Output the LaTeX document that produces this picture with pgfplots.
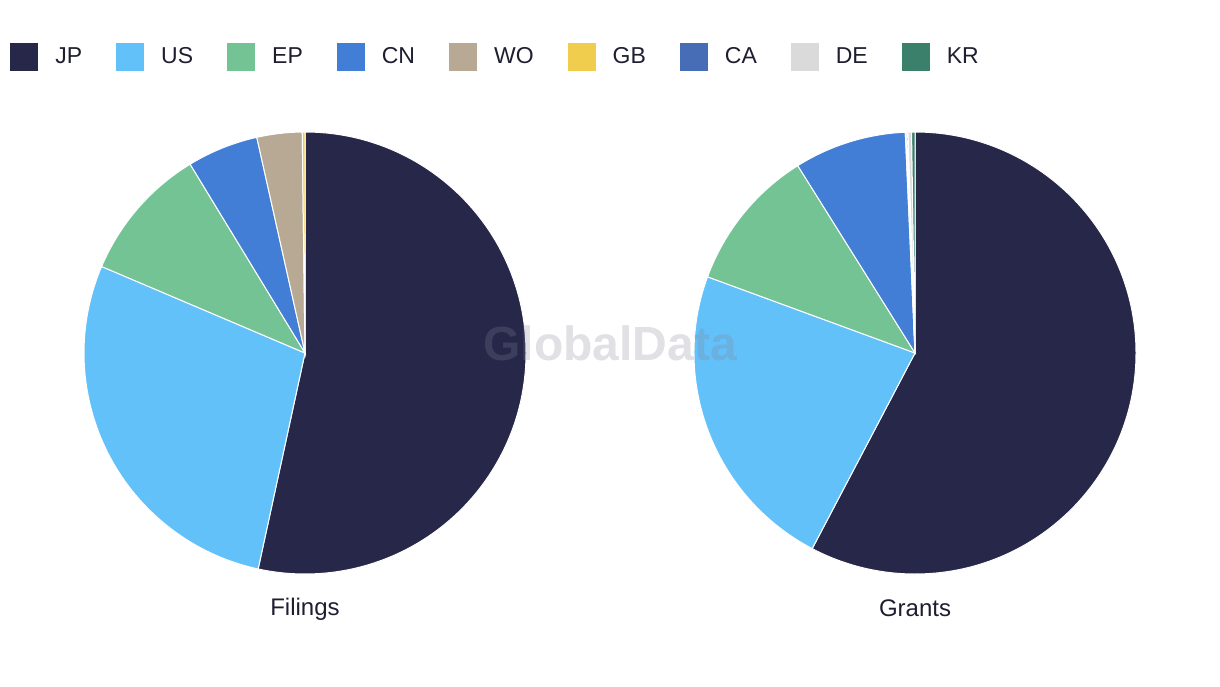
\documentclass[border=0pt]{standalone}
\usepackage{pgfplots}
\pgfplotsset{compat=1.18}
\usepackage{pgfplotstable}
\usepackage{fontspec}
\setmainfont{Liberation Sans}

\definecolor{cJP}{RGB}{38,39,73}
\definecolor{cUS}{RGB}{98,193,249}
\definecolor{cEP}{RGB}{116,195,148}
\definecolor{cCN}{RGB}{66,126,214}
\definecolor{cWO}{RGB}{183,169,147}
\definecolor{cGB}{RGB}{240,205,77}
\definecolor{cCA}{RGB}{70,109,181}
\definecolor{cDE}{RGB}{218,218,218}
\definecolor{cKR}{RGB}{58,128,106}
\definecolor{txt}{RGB}{30,30,48}
\definecolor{wm}{RGB}{130,130,150}

\pgfplotstableread{
code filings grants
JP 53.4 57.7
US 28.0 22.9
EP 9.9 10.5
CN 5.2 8.2
WO 3.3 0.1
GB 0.2 0.0
CA 0.0 0.1
DE 0.0 0.25
KR 0.0 0.25
}\sharetable

\def\R{110.5pt}
\newcommand\drawpie[3]{%
  \gdef\cum{0}%
  \pgfplotstablegetrowsof{\sharetable}\let\nrows\pgfplotsretval
  \pgfmathtruncatemacro\lastrow{\nrows-1}%
  \foreach \i in {0,...,\lastrow}{%
    \pgfplotstablegetelem{\i}{code}\of\sharetable \let\code\pgfplotsretval
    \pgfplotstablegetelem{\i}{#3}\of\sharetable \let\val\pgfplotsretval
    \pgfmathsetmacro\sa{90-3.6*\cum}%
    \pgfmathsetmacro\ea{90-3.6*(\cum+\val)}%
    \pgfmathsetmacro\newcum{\cum+\val}%
    \xdef\cum{\newcum}%
    \ifdim\val pt>0pt
      \fill[c\code, draw=white, line width=0.5pt] (axis cs:#1,#2) -- ++(\sa:\R) arc[start angle=\sa, end angle=\ea, radius=\R] -- cycle;
    \fi
  }%
}

\begin{document}
\begin{tikzpicture}
\begin{axis}[
  width=610pt, height=343pt, scale only axis,
  xmin=0, xmax=1220, ymin=0, ymax=686,
  hide axis, clip=false,
  legend columns=9,
  legend image code/.code={\fill[#1, draw=none] (0pt,-7pt) rectangle (14pt,7pt);},
  legend style={draw=none, fill=none, at={(axis cs:10,629)}, anchor=west,
    inner sep=0pt, text=txt,
    font=\fontsize{11.5}{13}\selectfont,
    /tikz/every odd column/.append style={column sep=6.5pt},
    /tikz/every even column/.append style={column sep=15pt}},
]
\path (rel axis cs:0,0) rectangle (rel axis cs:1,1);
\addlegendimage{fill=cJP}\addlegendentry{JP}
\addlegendimage{fill=cUS}\addlegendentry{US}
\addlegendimage{fill=cEP}\addlegendentry{EP}
\addlegendimage{fill=cCN}\addlegendentry{CN}
\addlegendimage{fill=cWO}\addlegendentry{WO}
\addlegendimage{fill=cGB}\addlegendentry{GB}
\addlegendimage{fill=cCA}\addlegendentry{CA}
\addlegendimage{fill=cDE}\addlegendentry{DE}
\addlegendimage{fill=cKR}\addlegendentry{KR}
\pgfplotsextra{\drawpie{305}{333}{filings}}
\pgfplotsextra{\drawpie{915}{333}{grants}}
\node[text=txt, font=\fontsize{12}{14}\selectfont] at (axis cs:305,77) {Filings};
\node[text=txt, font=\fontsize{12}{14}\selectfont] at (axis cs:915,78) {Grants};
\node[text=wm, text opacity=0.25, font=\bfseries\fontsize{24}{28}\selectfont] at (axis cs:610,343) {GlobalData};
\end{axis}
\end{tikzpicture}
\end{document}
